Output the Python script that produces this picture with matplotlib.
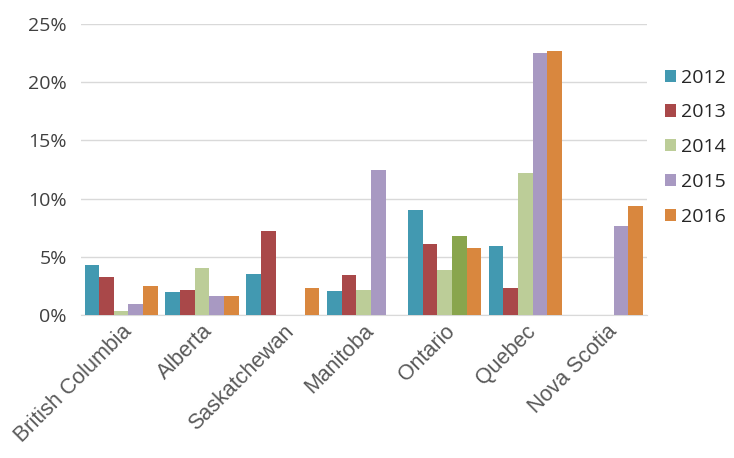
import matplotlib
matplotlib.use("Agg")
import matplotlib.pyplot as plt
import numpy as np
from matplotlib.ticker import FuncFormatter

provinces = ["British Columbia", "Alberta", "Saskatchewan", "Manitoba", "Ontario", "Quebec", "Nova Scotia"]
years = ["2012", "2013", "2014", "2015", "2016"]
v2012 = [4.30, 1.98, 3.49, 2.03, 9.02, 5.93, 0.0]
v2013 = [3.29, 2.12, 7.25, 3.41, 6.10, 2.35, 0.0]
v2014 = [0.37, 4.07, 0.0, 2.18, 3.89, 12.17, 0.0]
v2015 = [0.97, 1.63, 0.0, 12.46, 6.76, 22.48, 7.65]
v2016 = [2.49, 1.63, 2.32, 0.0, 5.78, 22.68, 9.34]
series = [v2012, v2013, v2014, v2015, v2016]
colors = ["#4299B1", "#A94849", "#BCCD98", "#A899C2", "#D9873E"]
highlight_color = "#89A54D"  # Ontario 2015 bar
yticks = [0, 5, 10, 15, 20, 25]

fig = plt.figure(figsize=(7.34, 4.58), dpi=100)
ax = fig.add_axes([0.110, 0.312, 0.771, 0.636])

n = len(years)
x = np.arange(len(provinces))
group_w = 0.906
bw = group_w / n
for i, (vals, c) in enumerate(zip(series, colors)):
    offs = x - group_w / 2 + bw * (i + 0.5)
    cols = [c] * len(provinces)
    if years[i] == "2015":
        cols[provinces.index("Ontario")] = highlight_color
    ax.bar(offs, vals, width=bw, color=cols, label=years[i], zorder=3)

ax.set_xlim(-0.5, len(provinces) - 0.5)
ax.set_ylim(0, 25)
ax.set_yticks(yticks)
ax.yaxis.set_major_formatter(FuncFormatter(lambda v, p: f"{int(v)}%"))
ax.grid(axis="y", color="#D9D9D9", linewidth=1, zorder=0)
for s in ["top", "right", "left"]:
    ax.spines[s].set_visible(False)
ax.spines["bottom"].set_color("#D9D9D9")
ax.tick_params(axis="y", length=0, pad=10, labelsize=14, labelcolor="#404040")
ax.tick_params(axis="x", length=0, pad=4)
ax.set_xticks(x)
ax.set_xticklabels(provinces, rotation=45, ha="right", rotation_mode="anchor",
                   fontsize=15.5, color="#595959",
                   family=["Liberation Sans", "DejaVu Sans"])
for lab in ax.get_yticklabels():
    lab.set_family(["Open Sans", "DejaVu Sans"])

leg = ax.legend(loc="upper left", bbox_to_anchor=(1.032, 0.846), frameon=False,
                borderpad=0, borderaxespad=0,
                handlelength=0.6, handleheight=0.6, handletextpad=0.25,
                labelspacing=0.86,
                prop={"family": ["Open Sans", "DejaVu Sans"], "size": 14})
for t in leg.get_texts():
    t.set_color("#262626")

fig.savefig("out.png", dpi=100)
